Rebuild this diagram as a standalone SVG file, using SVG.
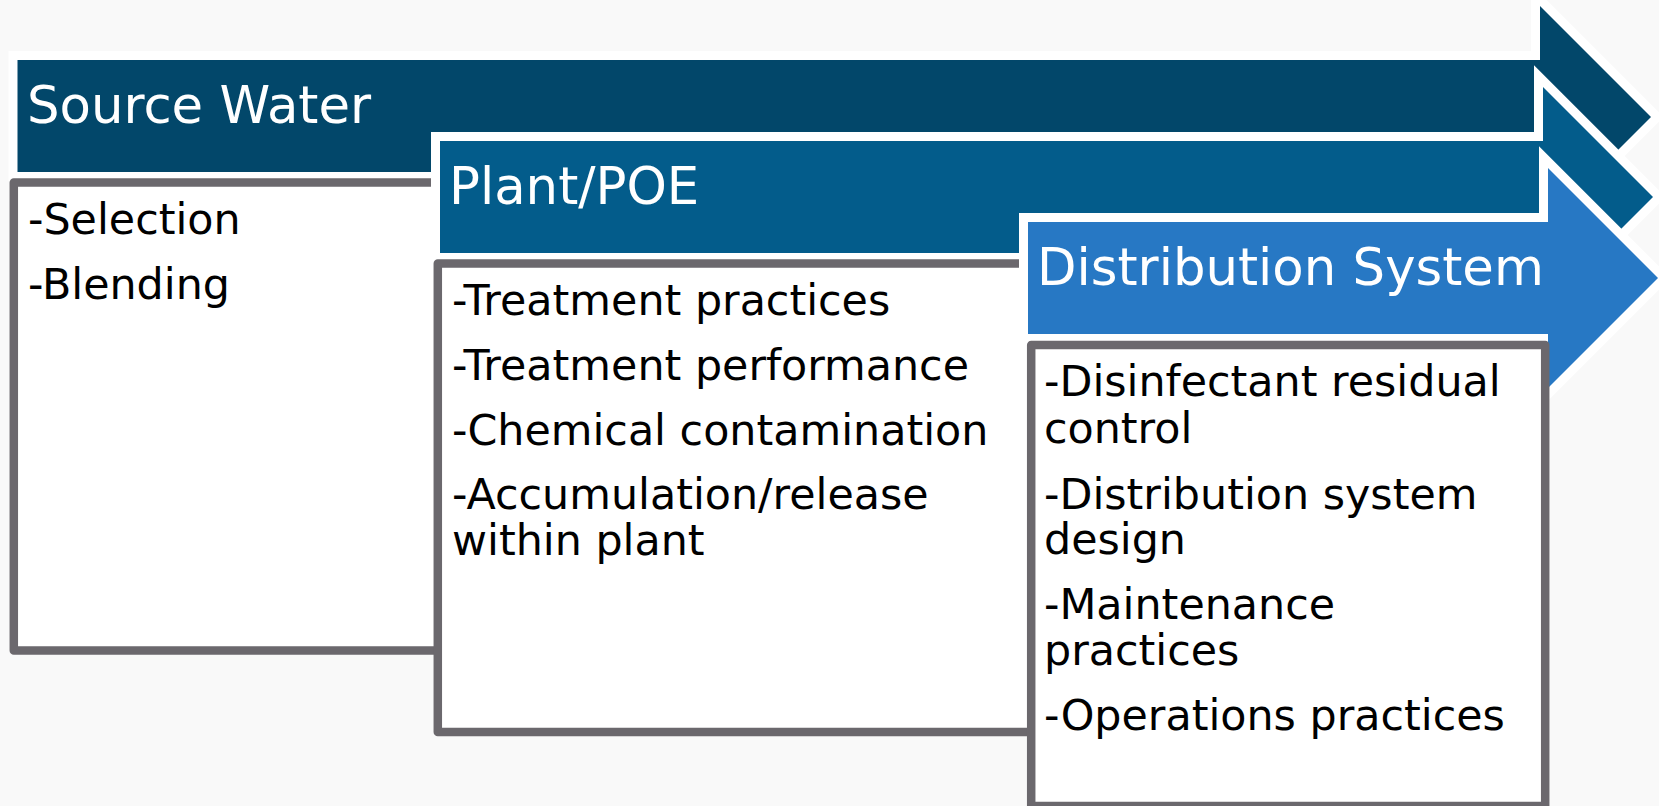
<svg xmlns="http://www.w3.org/2000/svg" width="1659" height="806" viewBox="0 0 1659 806">
  <style>
    .arrow { stroke: #ffffff; stroke-width: 18; stroke-linejoin: miter; stroke-miterlimit: 10; paint-order: stroke; }
    .a1 { fill: #02476a; }
    .a2 { fill: #035c8b; }
    .a3 { fill: #2778c4; }
    .box { fill: #ffffff; stroke: #6b686d; stroke-width: 8.5; stroke-linejoin: round; }
    .title { font-family: "DejaVu Sans", Verdana, sans-serif; font-size: 51.3px; fill: #ffffff; }
    .item { font-family: "DejaVu Sans", Verdana, sans-serif; font-size: 42.8px; fill: #000000; }
  </style>

  <!-- page background -->
  <rect x="0" y="0" width="1659" height="806" fill="#f9f9f9"/>

  <!-- Stage 1: source water -->
  <g id="source-water">
    <polygon class="arrow a1" points="17.5,60 1540,60 1540,6 1651,117 1540,228 1540,172 17.5,172"/>
    <text class="title" x="27" y="123">Source Water</text>
    <rect class="box" x="13.8" y="182.5" width="600" height="468"/>
    <text class="item" x="28" y="234">-Selection</text>
    <text class="item" x="28" y="299">-Blending</text>
  </g>

  <!-- Stage 2: treatment plant / point of entry -->
  <g id="plant-poe">
    <polygon class="arrow a2" points="440,141 1543,141 1543,87 1653,197 1543,307 1543,253 440,253"/>
    <text class="title" x="449" y="204">Plant/POE</text>
    <rect class="box" x="437.8" y="263.5" width="600" height="468.5"/>
    <text class="item" x="452" y="315">-Treatment practices</text>
    <text class="item" x="452" y="380">-Treatment performance</text>
    <text class="item" x="452" y="445">-Chemical contamination</text>
    <text class="item" x="452" y="509">-Accumulation/release<tspan x="452" dy="46">within plant</tspan></text>
  </g>

  <!-- Stage 3: distribution system -->
  <g id="distribution-system">
    <polygon class="arrow a3" points="1028,222 1548,222 1548,168 1658,278 1548,388 1548,334 1028,334"/>
    <text class="title" x="1037" y="285">Distribution System</text>
    <rect class="box" x="1031.2" y="345" width="514" height="461"/>
    <text class="item" x="1044" y="396">-Disinfectant residual<tspan x="1044" dy="47">control</tspan></text>
    <text class="item" x="1044" y="509">-Distribution system<tspan x="1044" dy="45">design</tspan></text>
    <text class="item" x="1044" y="619">-Maintenance<tspan x="1044" dy="46">practices</tspan></text>
    <text class="item" x="1044" y="730">-Operations practices</text>
  </g>
</svg>
